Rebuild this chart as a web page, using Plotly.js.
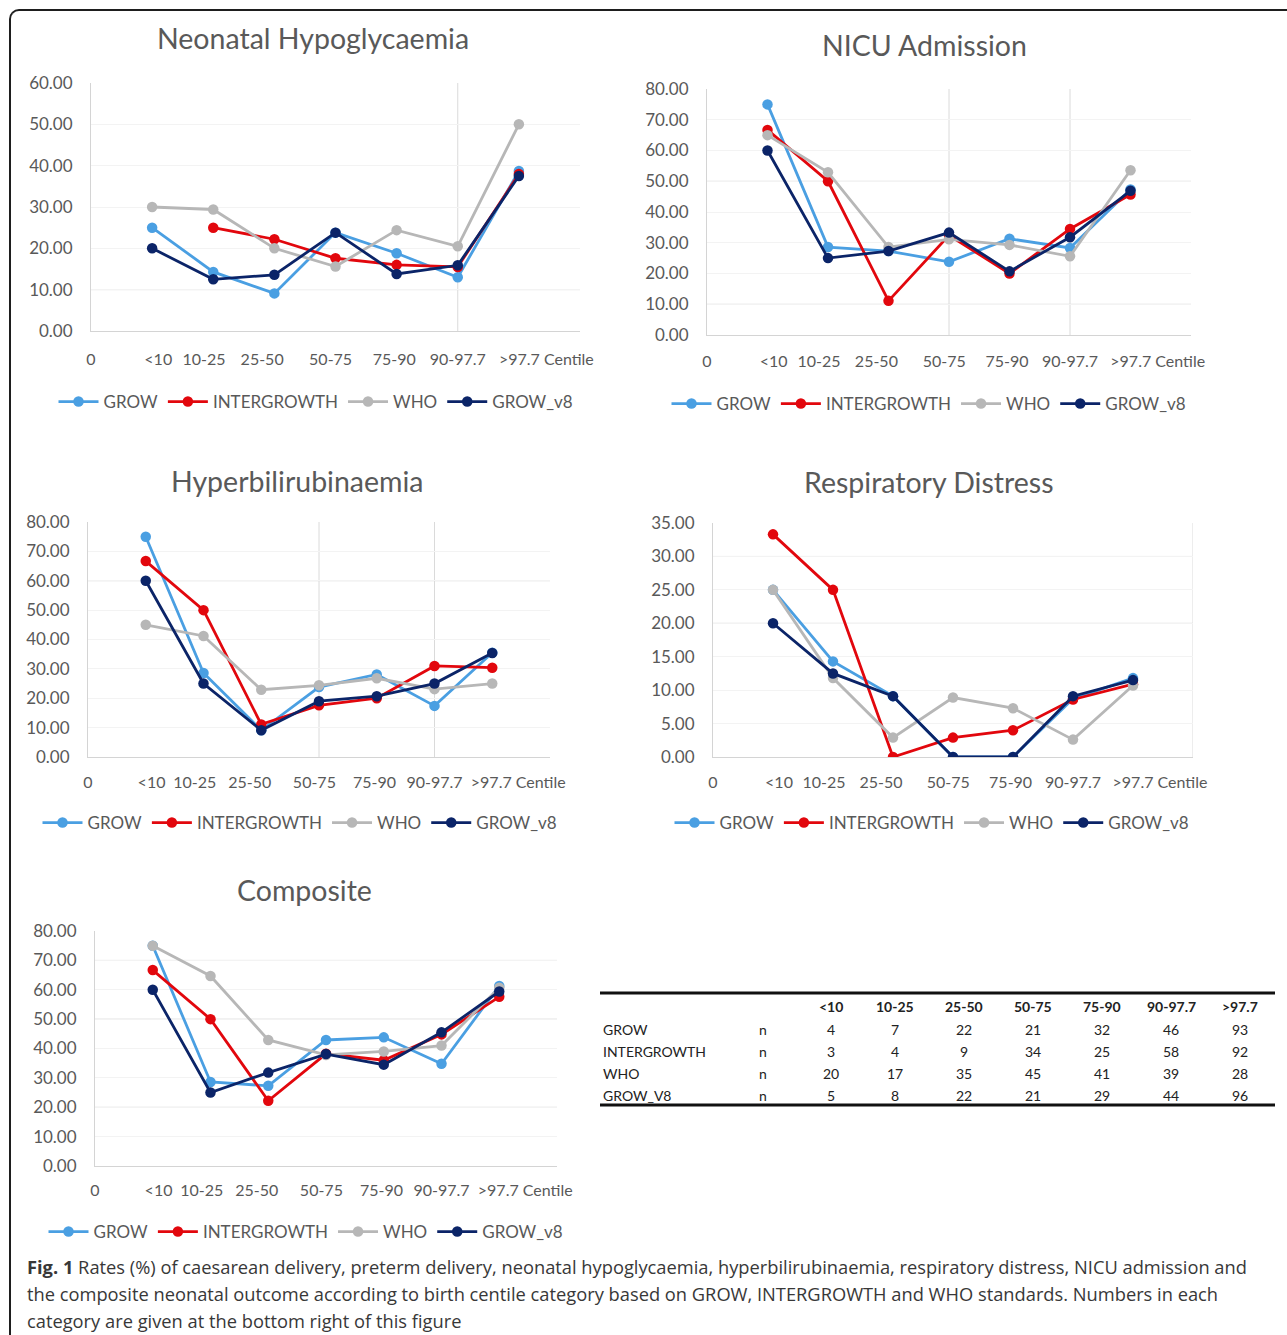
<!DOCTYPE html>
<html>
<head>
<meta charset="utf-8">
<script src="https://cdn.plot.ly/plotly-3.0.1.min.js"></script>
<style>
html,body{margin:0;padding:0;background:#fff;}
#wrap{position:relative;width:1287px;height:1335px;overflow:hidden;}
#frame{position:absolute;left:9px;top:9px;width:1320px;height:1360px;border-top:2px solid #1e1e1e;border-left:2px solid #1e1e1e;border-top-left-radius:10px;box-sizing:border-box;}
#plot{position:absolute;left:0;top:0;width:1287px;height:1335px;}
</style>
</head>
<body>
<div id="wrap"><div id="frame"></div><div id="plot"></div></div>
<script>
// ---------- DATA ----------
const categories = ['<10','10-25','25-50','50-75','75-90','90-97.7','>97.7'];
const tickLabels = ['0','<10','10-25','25-50','50-75','75-90','90-97.7','>97.7 Centile'];
const seriesNames = ['GROW','INTERGROWTH','WHO','GROW_v8'];

// Neonatal Hypoglycaemia
const hypoGROW   = [25.0, 14.3, 9.1, 23.8, 18.8, 13.0, 38.7];
const hypoINTER  = [null, 25.0, 22.2, 17.6, 16.0, 15.5, 38.0];
const hypoWHO    = [30.0, 29.4, 20.0, 15.6, 24.4, 20.5, 50.0];
const hypoV8     = [20.0, 12.5, 13.6, 23.8, 13.8, 15.9, 37.5];

// NICU Admission
const nicuGROW   = [75.0, 28.6, 27.3, 23.8, 31.3, 28.3, 47.3];
const nicuINTER  = [66.7, 50.0, 11.1, 32.4, 20.0, 34.5, 45.7];
const nicuWHO    = [65.0, 52.9, 28.6, 31.1, 29.3, 25.6, 53.6];
const nicuV8     = [60.0, 25.0, 27.3, 33.3, 20.7, 31.8, 46.9];

// Hyperbilirubinaemia
const biliGROW   = [75.0, 28.6, 9.1, 23.8, 28.1, 17.4, 35.5];
const biliINTER  = [66.7, 50.0, 11.1, 17.6, 20.0, 31.0, 30.4];
const biliWHO    = [45.0, 41.2, 22.9, 24.4, 26.8, 23.1, 25.0];
const biliV8     = [60.0, 25.0, 9.1, 19.0, 20.7, 25.0, 35.4];

// Respiratory Distress
const respGROW   = [25.0, 14.3, 9.1, 0.0, 0.0, 8.7, 11.8];
const respINTER  = [33.3, 25.0, 0.0, 2.9, 4.0, 8.6, 10.9];
const respWHO    = [25.0, 11.8, 2.9, 8.9, 7.3, 2.6, 10.7];
const respV8     = [20.0, 12.5, 9.1, 0.0, 0.0, 9.1, 11.5];

// Composite
const compGROW   = [75.0, 28.6, 27.3, 42.9, 43.8, 34.8, 61.3];
const compINTER  = [66.7, 50.0, 22.2, 38.2, 36.0, 44.8, 57.6];
const compWHO    = [75.0, 64.7, 42.9, 37.8, 39.0, 41.0, 60.7];
const compV8     = [60.0, 25.0, 31.8, 38.1, 34.5, 45.5, 59.4];

// Table of numbers in each category
const tableHeader = ['<10','10-25','25-50','50-75','75-90','90-97.7','>97.7'];
const tableRowNames = ['GROW','INTERGROWTH','WHO','GROW_V8'];
const nGROW  = [4, 7, 22, 21, 32, 46, 93];
const nINTER = [3, 4, 9, 34, 25, 58, 92];
const nWHO   = [20, 17, 35, 45, 41, 39, 28];
const nV8    = [5, 8, 22, 21, 29, 44, 96];

// ---------- LAYOUT HELPERS ----------
const W = 1287, H = 1335;
const px = x => x / W;
const py = y => 1 - y / H;
const FONT = 'Lato, "Open Sans", sans-serif';
const GREY = '#595959';
const colors = ['#4a9fe2', '#e2070d', '#b7b7b7', '#0b2468'];
const tickPos = [0, 1.1, 1.85, 2.8, 3.92, 4.96, 6.0, 7.45];

const charts = [
  {title:'Neonatal Hypoglycaemia', x0:91, x1:580, yTop:83, yBot:331, ymax:60, dtick:10,
   tx:313, ty:38, lx:316, ly:402, hg:[10], vg:[6], tl:14,
   data:[hypoGROW, hypoINTER, hypoWHO, hypoV8]},
  {title:'NICU Admission', x0:707, x1:1191, yTop:89, yBot:335, ymax:80, dtick:10,
   tx:924, ty:45, lx:929, ly:404, hg:[10,50,60], vg:[4,6], tl:12,
   data:[nicuGROW, nicuINTER, nicuWHO, nicuV8]},
  {title:'Hyperbilirubinaemia', x0:88, x1:550, yTop:522, yBot:757, ymax:80, dtick:10,
   tx:297, ty:481, lx:300, ly:823, hg:[60], vg:[4,6], tl:11,
   data:[biliGROW, biliINTER, biliWHO, biliV8]},
  {title:'Respiratory Distress', x0:713, x1:1193, yTop:523, yBot:757, ymax:35, dtick:5,
   tx:929, ty:482, lx:932, ly:823, hg:[20,30], vg:[8], tl:11,
   data:[respGROW, respINTER, respWHO, respV8]},
  {title:'Composite', x0:95, x1:557, yTop:931, yBot:1166, ymax:80, dtick:10,
   tx:304, ty:890, lx:306, ly:1232, hg:[20,40,50,70], vg:[], tl:10,
   data:[compGROW, compINTER, compWHO, compV8]}
];

const traces = [];
const layout = {
  width: W, height: H,
  margin: {l:0, r:0, t:0, b:0},
  paper_bgcolor: 'rgba(0,0,0,0)',
  plot_bgcolor: 'rgba(0,0,0,0)',
  font: {family: FONT, color: GREY},
  annotations: [], shapes: []
};

charts.forEach((c, k) => {
  const n = k + 1;
  const xa = 'xaxis' + (n === 1 ? '' : n), ya = 'yaxis' + (n === 1 ? '' : n);
  const xr = 'x' + (n === 1 ? '' : n), yr = 'y' + (n === 1 ? '' : n);
  const leg = 'legend' + (n === 1 ? '' : n);
  layout[xa] = {
    domain: [px(c.x0), px(c.x1)], range: [0, 8], anchor: yr,
    tickmode: 'array', tickvals: tickPos, ticktext: tickLabels,
    showgrid: false, zeroline: false, showline: true, linecolor: '#d4d4d4', linewidth: 1,
    ticks: 'outside', ticklen: c.tl, tickcolor: 'rgba(0,0,0,0)',
    tickfont: {family: FONT, size: 16, color: GREY}, fixedrange: true
  };
  layout[ya] = {
    domain: [py(c.yBot), py(c.yTop)], range: [0, c.ymax], anchor: xr,
    dtick: c.dtick, tick0: 0, tickformat: '.2f',
    showgrid: true, gridcolor: '#f3f3f3', zeroline: false,
    showline: true, linecolor: '#d4d4d4', linewidth: 1,
    ticks: 'outside', ticklen: 14, tickcolor: 'rgba(0,0,0,0)',
    tickfont: {family: FONT, size: 17, color: GREY}, fixedrange: true
  };
  layout[leg] = {
    orientation: 'h', x: px(c.lx), y: py(c.ly), xanchor: 'center', yanchor: 'middle',
    font: {family: FONT, size: 17, color: GREY}, bgcolor: 'rgba(0,0,0,0)',
    itemwidth: 40, tracegroupgap: 0
  };
  c.data.forEach((vals, s) => {
    traces.push({
      type: 'scatter', mode: 'lines+markers',
      x: categories.map((_, i) => i + 1), y: vals,
      name: seriesNames[s], xaxis: xr, yaxis: yr, legend: leg,
      line: {color: colors[s], width: 2.8},
      marker: {color: colors[s], size: 10.5},
      connectgaps: false, hoverinfo: 'skip'
    });
  });
  layout.annotations.push({
    text: c.title, xref: 'paper', yref: 'paper', x: px(c.tx), y: py(c.ty),
    xanchor: 'center', yanchor: 'middle', showarrow: false,
    font: {family: FONT, size: 28.5, color: GREY}
  });
  c.hg.forEach(v => layout.shapes.push({
    type: 'line', xref: xr, yref: yr, x0: 0, x1: 8, y0: v, y1: v,
    line: {color: '#dadada', width: 1}, layer: 'below'
  }));
  c.vg.forEach(v => layout.shapes.push({
    type: 'line', xref: xr, yref: yr, x0: v, x1: v, y0: 0, y1: c.ymax,
    line: {color: '#dadada', width: 1}, layer: 'below'
  }));
});

// ---------- TABLE ----------
const TFONT = 'Lato, "Open Sans", sans-serif';
const colX = [831, 895, 964, 1033, 1102, 1171, 1240];
const rowY = [1029, 1051, 1073, 1095];
const tableRows = [nGROW, nINTER, nWHO, nV8];
tableHeader.forEach((h, j) => layout.annotations.push({
  text: '<b>' + h.replace('<', '&lt;').replace('>', '&gt;') + '</b>', xref: 'paper', yref: 'paper',
  x: px(colX[j]), y: py(1006), xanchor: 'center', yanchor: 'middle', showarrow: false,
  font: {family: TFONT, size: 14, color: '#222'}
}));
tableRows.forEach((row, r) => {
  layout.annotations.push({
    text: tableRowNames[r], xref: 'paper', yref: 'paper', x: px(601), y: py(rowY[r]),
    xanchor: 'left', yanchor: 'middle', showarrow: false,
    font: {family: TFONT, size: 14, color: '#222'}
  });
  layout.annotations.push({
    text: 'n', xref: 'paper', yref: 'paper', x: px(763), y: py(rowY[r]),
    xanchor: 'center', yanchor: 'middle', showarrow: false,
    font: {family: TFONT, size: 14, color: '#222'}
  });
  row.forEach((v, j) => layout.annotations.push({
    text: String(v), xref: 'paper', yref: 'paper', x: px(colX[j]), y: py(rowY[r]),
    xanchor: 'center', yanchor: 'middle', showarrow: false,
    font: {family: TFONT, size: 14, color: '#222'}
  }));
});
[993, 1105].forEach(yy => layout.shapes.push({
  type: 'line', xref: 'paper', yref: 'paper', x0: px(600), x1: px(1275), y0: py(yy), y1: py(yy),
  line: {color: '#111', width: 3}
}));

// ---------- CAPTION ----------
const captionLines = [
  '<b>Fig. 1</b> Rates (%) of caesarean delivery, preterm delivery, neonatal hypoglycaemia, hyperbilirubinaemia, respiratory distress, NICU admission and',
  'the composite neonatal outcome according to birth centile category based on GROW, INTERGROWTH and WHO standards. Numbers in each',
  'category are given at the bottom right of this figure'
];
const capY = [1266, 1293, 1320];
captionLines.forEach((t, i) => layout.annotations.push({
  text: t, xref: 'paper', yref: 'paper', x: px(25), y: py(capY[i]),
  xanchor: 'left', yanchor: 'middle', showarrow: false,
  font: {family: '"Open Sans", "Noto Sans", sans-serif', size: 18.3, color: '#383838'}
}));

Plotly.newPlot('plot', traces, layout, {staticPlot: true, displayModeBar: false});
</script>
</body>
</html>
